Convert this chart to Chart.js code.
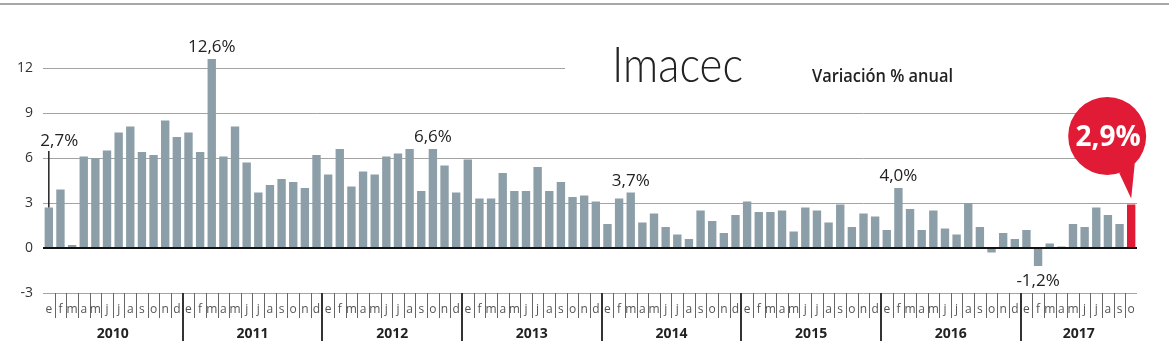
<!DOCTYPE html>
<html>
<head>
<meta charset="utf-8">
<script src="https://cdn.jsdelivr.net/npm/chart.js@4/dist/chart.umd.min.js"></script>
<style>
  body { margin: 0; background: #fff; }
  canvas { display: block; }
</style>
</head>
<body>
<canvas id="imacecChart" width="1169" height="363"></canvas>
<script>
// Imacec, variación % anual (lectura del gráfico)
const years = ['2010', '2011', '2012', '2013', '2014', '2015', '2016', '2017'];
const monthLetters = ['e', 'f', 'm', 'a', 'm', 'j', 'j', 'a', 's', 'o', 'n', 'd'];
const yTicks = [-3, 0, 3, 6, 9, 12];

const v2010 = [2.7, 3.9, 0.2, 6.1, 6.0, 6.5, 7.7, 8.1, 6.4, 6.2, 8.5, 7.4];
const v2011 = [7.7, 6.4, 12.6, 6.1, 8.1, 5.7, 3.7, 4.2, 4.6, 4.4, 4.0, 6.2];
const v2012 = [4.9, 6.6, 4.1, 5.1, 4.9, 6.1, 6.3, 6.6, 3.8, 6.6, 5.5, 3.7];
const v2013 = [5.9, 3.3, 3.3, 5.0, 3.8, 3.8, 5.4, 3.8, 4.4, 3.4, 3.5, 3.1];
const v2014 = [1.6, 3.3, 3.7, 1.7, 2.3, 1.4, 0.9, 0.6, 2.5, 1.8, 1.0, 2.2];
const v2015 = [3.1, 2.4, 2.4, 2.5, 1.1, 2.7, 2.5, 1.7, 2.9, 1.4, 2.3, 2.1];
const v2016 = [1.2, 4.0, 2.6, 1.2, 2.5, 1.3, 0.9, 3.0, 1.4, -0.3, 1.0, 0.6];
const v2017 = [1.2, -1.2, 0.3, 0.1, 1.6, 1.4, 2.7, 2.2, 1.6, 2.9];

const yearValues = [v2010, v2011, v2012, v2013, v2014, v2015, v2016, v2017];

// barras destacadas con su etiqueta
const highlights = [0, 14, 33, 50, 73, 85];

const values = [];
const labels = [];
yearValues.forEach((arr, y) => {
  arr.forEach((v, m) => {
    values.push(v);
    labels.push(monthLetters[m] + ' ' + years[y]);
  });
});
const lastIdx = values.length - 1;

const GRAY = '#8c9fa8';
const RED = '#e11b35';
const FONT = '"Open Sans", "Noto Sans", sans-serif';

function fmt(v) {
  return v.toFixed(1).replace('.', ',') + '%';
}

const decor = {
  id: 'decor',
  beforeDatasetsDraw(chart) {
    const { ctx, scales: { y } } = chart;
    // la línea de 12 se corta antes del título
    ctx.save();
    ctx.strokeStyle = '#a3a3a3';
    ctx.lineWidth = 1;
    const py = Math.round(y.getPixelForValue(12)) + 0.5;
    ctx.beginPath();
    ctx.moveTo(chart.chartArea.left, py);
    ctx.lineTo(565, py);
    ctx.stroke();
    ctx.restore();
  },
  afterDraw(chart) {
    const { ctx, chartArea, scales: { x, y } } = chart;
    const meta = chart.getDatasetMeta(0);
    const n = values.length;
    const w = (chartArea.right - chartArea.left) / n;
    const yBase = y.getPixelForValue(-3);

    ctx.save();

    // línea superior
    ctx.strokeStyle = '#8a8a8a';
    ctx.lineWidth = 1.5;
    ctx.beginPath();
    ctx.moveTo(0, 4);
    ctx.lineTo(chart.width, 4);
    ctx.stroke();

    // separadores de meses y años
    for (let i = 1; i < n; i++) {
      const bx = Math.round(x.getPixelForValue(i) - w / 2);
      ctx.beginPath();
      if (i % 12 === 0) {
        ctx.strokeStyle = '#333';
        ctx.lineWidth = 2;
        ctx.moveTo(bx, yBase);
        ctx.lineTo(bx, 341);
      } else {
        ctx.strokeStyle = '#666';
        ctx.lineWidth = 1;
        ctx.moveTo(bx + 0.5, yBase);
        ctx.lineTo(bx + 0.5, 318);
      }
      ctx.stroke();
    }

    // letras de los meses
    ctx.fillStyle = '#555';
    ctx.font = '12px "Liberation Sans Narrow", ' + FONT;
    ctx.textAlign = 'center';
    ctx.textBaseline = 'alphabetic';
    for (let i = 0; i < n; i++) {
      ctx.fillText(monthLetters[i % 12], x.getPixelForValue(i), 313);
    }

    // años
    ctx.fillStyle = '#222';
    ctx.font = 'bold 14px ' + FONT;
    years.forEach((yr, k) => {
      const first = k * 12;
      const last = Math.min(first + 11, n - 1);
      const cx = (x.getPixelForValue(first) + x.getPixelForValue(last)) / 2;
      ctx.fillText(yr, cx, 338);
    });

    // etiquetas de valores destacados
    ctx.font = '17px ' + FONT;
    ctx.fillStyle = '#222';
    highlights.forEach(i => {
      const bar = meta.data[i];
      const v = values[i];
      if (i === 0) {
        ctx.textAlign = 'left';
        ctx.fillText(fmt(v), bar.x - 8.5, 146);
        ctx.strokeStyle = '#222';
        ctx.lineWidth = 1.5;
        ctx.beginPath();
        ctx.moveTo(bar.x, 151);
        ctx.lineTo(bar.x, bar.y);
        ctx.stroke();
      } else if (v < 0) {
        ctx.textAlign = 'center';
        ctx.fillText(fmt(v), bar.x, bar.y + 20);
      } else {
        ctx.textAlign = 'center';
        ctx.fillText(fmt(v), bar.x, bar.y - 7);
      }
    });

    // globo del último dato
    const lb = meta.data[lastIdx];
    const cx = lb.x - 24, cy = 136, r = 39;
    const a1 = 45 * Math.PI / 180, a2 = 72 * Math.PI / 180;
    ctx.fillStyle = RED;
    ctx.beginPath();
    ctx.arc(cx, cy, r, 0, Math.PI * 2);
    ctx.fill();
    ctx.beginPath();
    ctx.moveTo(cx + r * Math.cos(a1), cy + r * Math.sin(a1));
    ctx.lineTo(lb.x, lb.y - 6);
    ctx.lineTo(cx + r * Math.cos(a2), cy + r * Math.sin(a2));
    ctx.closePath();
    ctx.fill();
    ctx.fillStyle = '#fff';
    ctx.font = 'bold 28px ' + FONT;
    ctx.textAlign = 'center';
    ctx.textBaseline = 'middle';
    ctx.fillText(fmt(values[lastIdx]), cx + 1, cy + 2);

    // título
    ctx.textBaseline = 'alphabetic';
    ctx.textAlign = 'left';
    ctx.fillStyle = '#222';
    ctx.font = '300 50px Lato, ' + FONT;
    let tw = ctx.measureText('Imacec').width;
    ctx.save();
    ctx.translate(612, 82);
    ctx.scale(131 / tw, 1);
    ctx.fillText('Imacec', 0, 0);
    ctx.restore();

    ctx.font = '600 18px ' + FONT;
    tw = ctx.measureText('Variación % anual').width;
    ctx.save();
    ctx.translate(812, 82);
    ctx.scale(141 / tw, 1);
    ctx.fillText('Variación % anual', 0, 0);
    ctx.restore();

    ctx.restore();
  }
};

const ctx = document.getElementById('imacecChart').getContext('2d');
new Chart(ctx, {
  type: 'bar',
  data: {
    labels: labels,
    datasets: [{
      data: values,
      backgroundColor: c => (c.dataIndex === lastIdx ? RED : GRAY),
      categoryPercentage: 1,
      barPercentage: 0.72
    }]
  },
  options: {
    responsive: false,
    animation: false,
    devicePixelRatio: 1,
    layout: { padding: { left: 0, top: 23, right: 32, bottom: 70 } },
    plugins: {
      legend: { display: false },
      tooltip: { enabled: false }
    },
    scales: {
      x: { display: false },
      y: {
        min: -3,
        max: 15,
        afterFit: axis => { axis.width = 43; },
        afterBuildTicks: axis => {
          axis.ticks = yTicks.concat([15]).map(v => ({ value: v }));
        },
        border: { display: false },
        grid: {
          drawTicks: false,
          color: c => {
            const v = c.tick.value;
            if (v === 0) return '#111';
            if (v === 12 || v === 15) return 'rgba(0,0,0,0)';
            return '#a3a3a3';
          },
          lineWidth: c => (c.tick.value === 0 ? 2 : 1)
        },
        ticks: {
          padding: 10,
          color: '#333',
          font: { family: FONT, size: 14 },
          callback: v => (yTicks.includes(v) ? String(v) : '')
        }
      }
    }
  },
  plugins: [decor]
});
</script>
</body>
</html>
